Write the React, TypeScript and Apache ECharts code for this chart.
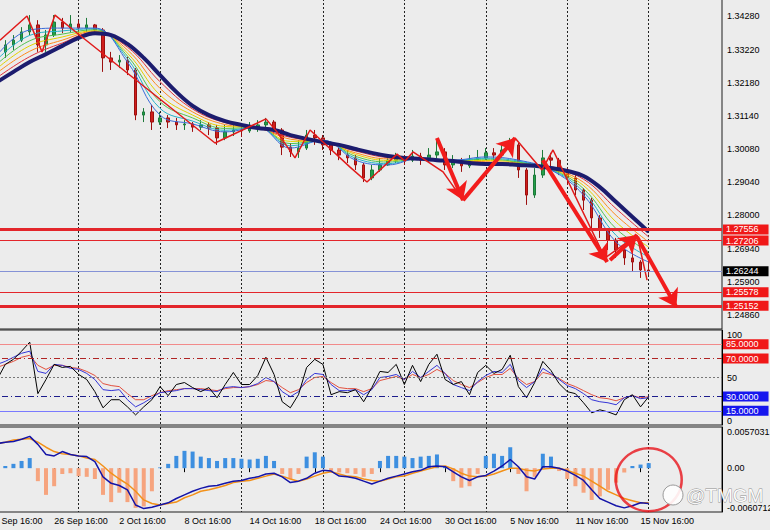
import React, { useEffect, useRef } from "react";
import * as echarts from "echarts";

// ---------- categories (12h slots) ----------
const tradingDays = [
  "20 Sep", "23 Sep", "24 Sep", "25 Sep", "26 Sep", "27 Sep", "30 Sep",
  "1 Oct", "2 Oct", "3 Oct", "4 Oct", "7 Oct", "8 Oct", "9 Oct", "10 Oct", "11 Oct",
  "14 Oct", "15 Oct", "16 Oct", "17 Oct", "18 Oct", "21 Oct", "22 Oct", "23 Oct", "24 Oct", "25 Oct",
  "28 Oct", "29 Oct", "30 Oct", "31 Oct", "1 Nov", "4 Nov", "5 Nov", "6 Nov", "7 Nov", "8 Nov",
  "11 Nov", "12 Nov", "13 Nov", "14 Nov", "15 Nov", "18 Nov", "19 Nov", "20 Nov", "21 Nov", "22 Nov",
];
const sessionHours = ["04:00", "16:00"];
const tickLabels = [
  "20 Sep 16:00", "26 Sep 16:00", "2 Oct 16:00", "8 Oct 16:00", "14 Oct 16:00", "18 Oct 16:00",
  "24 Oct 16:00", "30 Oct 16:00", "5 Nov 16:00", "11 Nov 16:00", "15 Nov 16:00",
];
const priceTicks = [1.3428, 1.3322, 1.3218, 1.3114, 1.3008, 1.2904, 1.28, 1.2694, 1.259, 1.2486];
const oscTicks = [0, 50, 100];
const macdTicks = [-0.0060712, 0, 0.0057031];

// ---------- candles (slots 1..81) ----------
const candleOpen = [
  1.3289, 1.3315, 1.3337, 1.3352, 1.3378, 1.3400, 1.3337, 1.3368, 1.3409, 1.3390,
  1.3403, 1.3390, 1.3400, 1.3384, 1.3296, 1.3283, 1.3289, 1.3258, 1.3116, 1.3126,
  1.3094, 1.3107, 1.3094, 1.3085, 1.3088, 1.3078, 1.3085, 1.3075, 1.3044, 1.3063,
  1.3069, 1.3066, 1.3078, 1.3085, 1.3094, 1.3069, 1.3015, 1.3000, 1.3012, 1.3053,
  1.3044, 1.3022, 1.3006, 1.2990, 1.2981, 1.2959, 1.2918, 1.2943, 1.2959, 1.2974,
  1.2981, 1.2974, 1.2987, 1.2974, 1.2990, 1.3000, 1.2959, 1.2968, 1.2956, 1.2974,
  1.2981, 1.2997, 1.2990, 1.3006, 1.3022, 1.2943, 1.2864, 1.2927, 1.2981, 1.2974,
  1.2943, 1.2918, 1.2880, 1.2848, 1.2792, 1.2754, 1.2722, 1.2691, 1.2666, 1.2653,
  1.2628,
];
const candleClose = [
  1.3315, 1.3337, 1.3352, 1.3378, 1.3400, 1.3337, 1.3368, 1.3409, 1.3390, 1.3403,
  1.3390, 1.3400, 1.3384, 1.3296, 1.3283, 1.3289, 1.3258, 1.3116, 1.3126, 1.3094,
  1.3107, 1.3094, 1.3085, 1.3088, 1.3078, 1.3085, 1.3075, 1.3044, 1.3063, 1.3069,
  1.3066, 1.3078, 1.3085, 1.3094, 1.3069, 1.3015, 1.3000, 1.3012, 1.3053, 1.3044,
  1.3022, 1.3006, 1.2990, 1.2981, 1.2959, 1.2918, 1.2943, 1.2959, 1.2974, 1.2981,
  1.2974, 1.2987, 1.2974, 1.2990, 1.3000, 1.2959, 1.2968, 1.2956, 1.2974, 1.2981,
  1.2997, 1.2990, 1.3006, 1.3022, 1.2943, 1.2864, 1.2927, 1.2981, 1.2974, 1.2943,
  1.2918, 1.2880, 1.2848, 1.2792, 1.2754, 1.2722, 1.2691, 1.2666, 1.2653, 1.2628,
  1.2624,
];
const candleLow = [
  1.3274, 1.3296, 1.3321, 1.3346, 1.3368, 1.3315, 1.3315, 1.3362, 1.3374, 1.3378,
  1.3368, 1.3378, 1.3368, 1.3252, 1.3258, 1.3264, 1.3242, 1.3100, 1.3094, 1.3069,
  1.3085, 1.3075, 1.3069, 1.3069, 1.3063, 1.3069, 1.3053, 1.3022, 1.3037, 1.3050,
  1.3047, 1.3060, 1.3063, 1.3069, 1.3053, 1.2990, 1.2984, 1.2981, 1.3006, 1.3022,
  1.3006, 1.2990, 1.2974, 1.2965, 1.2943, 1.2905, 1.2911, 1.2937, 1.2956, 1.2965,
  1.2959, 1.2968, 1.2959, 1.2968, 1.2974, 1.2943, 1.2949, 1.2937, 1.2949, 1.2968,
  1.2974, 1.2974, 1.2984, 1.3000, 1.2918, 1.2833, 1.2855, 1.2918, 1.2949, 1.2927,
  1.2896, 1.2864, 1.2817, 1.2754, 1.2729, 1.2691, 1.2666, 1.2644, 1.2622, 1.2603,
  1.2612,
];
const candleHigh = [
  1.3337, 1.3352, 1.3368, 1.3393, 1.3431, 1.3415, 1.3384, 1.3431, 1.3422, 1.3431,
  1.3415, 1.3422, 1.3403, 1.3390, 1.3315, 1.3305, 1.3299, 1.3264, 1.3138, 1.3148,
  1.3126, 1.3116, 1.3107, 1.3100, 1.3094, 1.3100, 1.3094, 1.3085, 1.3085, 1.3085,
  1.3085, 1.3094, 1.3100, 1.3107, 1.3100, 1.3075, 1.3028, 1.3037, 1.3069, 1.3069,
  1.3053, 1.3028, 1.3015, 1.3006, 1.2990, 1.2965, 1.2959, 1.2981, 1.2990, 1.2997,
  1.2990, 1.3006, 1.2997, 1.3012, 1.3037, 1.3012, 1.2990, 1.2981, 1.2990, 1.3006,
  1.3012, 1.3012, 1.3028, 1.3044, 1.3028, 1.2949, 1.2949, 1.3006, 1.2997, 1.2981,
  1.2949, 1.2927, 1.2886, 1.2855, 1.2801, 1.2760, 1.2729, 1.2707, 1.2685, 1.2659,
  1.2666,
];

// slow MA (every 2 slots, from slot 1)
const navyMA = [
  1.3220, 1.3252, 1.3283, 1.3308, 1.3334, 1.3359, 1.3374, 1.3368, 1.3340, 1.3296,
  1.3242, 1.3189, 1.3145, 1.3116, 1.3097, 1.3085, 1.3075, 1.3069, 1.3053, 1.3041,
  1.3031, 1.3022, 1.3009, 1.2997, 1.2987, 1.2981, 1.2978, 1.2974, 1.2971, 1.2965,
  1.2962, 1.2962, 1.2959, 1.2956, 1.2949, 1.2940, 1.2924, 1.2889, 1.2842, 1.2795,
  1.2748,
];
// MA ribbon (every 4 slots, from slot 1), slowest -> fastest
const ribbon1 = [1.3234, 1.3300, 1.3343, 1.3377, 1.3330, 1.3221, 1.3135, 1.3092, 1.3075, 1.3046, 1.3031, 1.3003, 1.2982, 1.2978, 1.2971, 1.2966, 1.2962, 1.2948, 1.2914, 1.2821, 1.2732];
const ribbon2 = [1.3249, 1.3317, 1.3352, 1.3380, 1.3321, 1.3200, 1.3126, 1.3086, 1.3076, 1.3040, 1.3032, 1.2997, 1.2978, 1.2978, 1.2972, 1.2969, 1.2965, 1.2947, 1.2904, 1.2800, 1.2716];
const ribbon3 = [1.3263, 1.3334, 1.3362, 1.3382, 1.3311, 1.3179, 1.3116, 1.3080, 1.3077, 1.3033, 1.3034, 1.2992, 1.2973, 1.2979, 1.2972, 1.2973, 1.2967, 1.2946, 1.2894, 1.2779, 1.2700];
const ribbon4 = [1.3277, 1.3350, 1.3371, 1.3385, 1.3302, 1.3158, 1.3107, 1.3074, 1.3077, 1.3026, 1.3035, 1.2986, 1.2968, 1.2980, 1.2973, 1.2977, 1.2968, 1.2945, 1.2884, 1.2758, 1.2685];
const ribbon5 = [1.3291, 1.3367, 1.3381, 1.3388, 1.3293, 1.3137, 1.3097, 1.3068, 1.3078, 1.3019, 1.3036, 1.2980, 1.2963, 1.2980, 1.2973, 1.2980, 1.2971, 1.2944, 1.2874, 1.2737, 1.2669];
const ribbon6 = [1.3305, 1.3384, 1.3390, 1.3390, 1.3283, 1.3116, 1.3088, 1.3063, 1.3078, 1.3012, 1.3037, 1.2974, 1.2959, 1.2981, 1.2974, 1.2984, 1.2974, 1.2943, 1.2864, 1.2716, 1.2653];

// zigzag swing points [slot position, price]
const zigzag = [
  [1.35, 1.3352], [4.67, 1.3428], [6.51, 1.3315], [8.1, 1.3431], [11.42, 1.3362],
  [27.75, 1.3028], [34.01, 1.3104], [35.36, 1.3063], [37.57, 1.2981], [39.42, 1.3069],
  [44.33, 1.2952], [46.41, 1.2905], [50.1, 1.2993], [51.08, 1.2971], [52.06, 1.3],
  [55.75, 1.2937], [58.2, 1.2848], [64.59, 1.3044], [67.9, 1.2943], [69.25, 1.3006],
  [75.64, 1.2666], [79.57, 1.2738], [80.8, 1.2596],
];
// annotation arrows [from, to]
const arrows = [
  [[55.0, 1.3044], [58.2, 1.2848]],
  [[58.2, 1.2848], [64.6, 1.3044]],
  [[68.0, 1.2974], [75.9, 1.2653]],
  [[76.25, 1.2659], [79.57, 1.2738]],
  [[79.57, 1.2732], [84.4, 1.2511]],
];
const priceLevels = [1.27556, 1.27206, 1.26244, 1.25578, 1.25152];

// oscillator (slots 1..81)
const oscFast = [
  47.9, 63.8, 69.1, 77.7, 87.2, 33.0, 47.9, 63.8, 60.6, 61.7,
  53.2, 47.9, 35.1, 18.1, 26.6, 26.6, 19.1, 10.6, 19.1, 26.6,
  40.4, 30.9, 42.6, 44.7, 39.4, 35.1, 39.4, 28.7, 42.6, 55.3,
  42.6, 42.6, 52.1, 71.3, 53.2, 24.5, 18.1, 31.9, 60.6, 69.1,
  63.8, 31.9, 35.1, 34.0, 37.2, 24.5, 39.4, 56.4, 55.3, 63.8,
  42.6, 62.8, 45.7, 63.8, 74.5, 47.9, 42.6, 45.7, 31.9, 55.3,
  62.8, 54.3, 58.5, 73.4, 40.4, 28.7, 44.7, 67.0, 57.4, 43.6,
  35.1, 33.0, 23.4, 12.8, 16.0, 13.8, 10.6, 26.6, 31.9, 19.1,
  29.8,
];
const oscMid = [
  63.8, 67.0, 71.3, 75.5, 77.7, 56.4, 54.3, 63.8, 62.8, 59.6,
  58.5, 54.3, 47.9, 37.2, 36.2, 37.2, 26.6, 19.1, 23.4, 28.7,
  34.0, 35.1, 36.2, 38.3, 38.3, 37.2, 36.2, 35.1, 39.4, 40.4,
  39.4, 40.4, 43.6, 50.0, 45.7, 35.1, 29.8, 35.1, 47.9, 54.3,
  53.2, 42.6, 36.2, 36.2, 37.2, 31.9, 37.2, 50.0, 51.1, 53.2,
  47.9, 56.4, 50.0, 56.4, 62.8, 54.3, 42.6, 39.4, 36.2, 45.7,
  52.1, 56.4, 55.3, 63.8, 46.8, 39.4, 45.7, 59.6, 54.3, 47.9,
  41.5, 38.3, 33.0, 26.6, 24.5, 23.4, 21.3, 28.7, 30.9, 27.7,
  28.7,
];
const oscSlow = [
  60.6, 63.8, 67.0, 71.3, 73.4, 62.8, 58.5, 62.8, 62.8, 60.6,
  59.6, 56.4, 52.1, 43.6, 41.5, 40.4, 33.0, 26.6, 26.6, 30.9,
  34.0, 36.2, 37.2, 38.3, 38.3, 38.3, 37.2, 36.2, 38.3, 39.4,
  39.4, 40.4, 42.6, 46.8, 45.7, 39.4, 34.0, 37.2, 44.7, 50.0,
  51.1, 44.7, 39.4, 38.3, 38.3, 35.1, 38.3, 46.8, 48.9, 51.1,
  47.9, 53.2, 50.0, 53.2, 58.5, 54.3, 46.8, 42.6, 39.4, 44.7,
  50.0, 53.2, 53.2, 59.6, 48.9, 42.6, 45.7, 55.3, 53.2, 48.9,
  43.6, 40.4, 36.2, 31.9, 28.7, 27.7, 25.5, 28.7, 30.9, 28.7,
  29.8,
];
const oscLevels = [85, 70, 50, 30, 15];

// MACD (slots 1..81)
const macdHist = [
  0.0002, 0.0003, 0.0006, 0.0010, 0.0014, -0.0018, -0.0037, -0.0025, -0.0008, -0.0007,
  -0.0011, -0.0012, -0.0015, -0.0037, -0.0047, -0.0034, -0.0047, -0.0055, -0.0053, -0.0032,
  0.0001, 0.0006, 0.0017, 0.0024, 0.0023, 0.0016, 0.0014, 0.0010, 0.0014, 0.0014,
  0.0013, 0.0012, 0.0013, 0.0017, 0.0010, -0.0008, -0.0015, -0.0008, 0.0016, 0.0022,
  0.0016, -0.0004, -0.0006, -0.0007, -0.0008, -0.0012, -0.0008, 0.0010, 0.0017, 0.0017,
  0.0016, 0.0014, 0.0016, 0.0017, 0.0019, 0.0003, -0.0018, -0.0027, -0.0025, -0.0008,
  0.0017, 0.0020, 0.0017, 0.0029, -0.0008, -0.0032, -0.0012, 0.0020, 0.0016, -0.0004,
  -0.0015, -0.0025, -0.0034, -0.0044, -0.0039, -0.0030, -0.0020, -0.0006, 0.0003, 0.0005,
  0.0007,
];
const macdMain = [
  0.0034, 0.0036, 0.0037, 0.0040, 0.0044, 0.0033, 0.0019, 0.0017, 0.0023, 0.0019,
  0.0017, 0.0016, 0.0009, -0.0012, -0.0021, -0.0024, -0.0030, -0.0051, -0.0056, -0.0054,
  -0.0051, -0.0048, -0.0042, -0.0037, -0.0032, -0.0028, -0.0025, -0.0024, -0.0021, -0.0018,
  -0.0017, -0.0014, -0.0012, -0.0008, -0.0007, -0.0012, -0.0020, -0.0018, -0.0014, -0.0007,
  -0.0003, -0.0004, -0.0011, -0.0012, -0.0014, -0.0018, -0.0022, -0.0018, -0.0014, -0.0011,
  -0.0008, -0.0005, -0.0003, 0.0002, 0.0003, 0.0002, -0.0005, -0.0012, -0.0017, -0.0012,
  -0.0010, -0.0004, 0.0003, 0.0012, 0.0002, -0.0012, -0.0015, 0.0002, 0.0002, 0.0000,
  -0.0004, -0.0010, -0.0017, -0.0030, -0.0042, -0.0047, -0.0052, -0.0055, -0.0052, -0.0048,
  -0.0049,
];
const macdSignal = [
  0.0034, 0.0036, 0.0039, 0.0040, 0.0041, 0.0036, 0.0029, 0.0023, 0.0020, 0.0019,
  0.0017, 0.0014, 0.0012, 0.0003, -0.0007, -0.0015, -0.0022, -0.0032, -0.0044, -0.0049,
  -0.0051, -0.0049, -0.0047, -0.0041, -0.0037, -0.0032, -0.0030, -0.0027, -0.0024, -0.0020,
  -0.0018, -0.0017, -0.0014, -0.0011, -0.0008, -0.0011, -0.0015, -0.0018, -0.0015, -0.0011,
  -0.0007, -0.0005, -0.0008, -0.0011, -0.0012, -0.0015, -0.0017, -0.0018, -0.0015, -0.0012,
  -0.0011, -0.0007, -0.0004, -0.0001, 0.0002, 0.0003, -0.0001, -0.0007, -0.0011, -0.0012,
  -0.0011, -0.0008, -0.0004, 0.0000, 0.0000, -0.0003, -0.0004, -0.0001, 0.0000, 0.0000,
  -0.0003, -0.0007, -0.0011, -0.0018, -0.0025, -0.0032, -0.0037, -0.0042, -0.0045, -0.0048,
  -0.0048,
];
const highlightSlot = 81;
const highlightValue = -0.0016;

// ---------- styling ----------
const FONT = '"Liberation Sans", Arial, sans-serif';
const BG = "#ececec";
const ribbonColors = ["#e0303a", "#ff8a1c", "#e2d200", "#52c24f", "#22b3c9", "#3a6ad8"];
const priceLevelStyles = [
  { color: "#e3262b", width: 3, bg: "#f01818" },
  { color: "#e3262b", width: 1, bg: "#f01818" },
  { color: "#8592d6", width: 1, bg: "#000000" },
  { color: "#e3262b", width: 1, bg: "#f01818" },
  { color: "#e3262b", width: 3, bg: "#f01818" },
];
const oscLevelStyles = [
  { color: "#f28a8a", type: "solid", bg: "#f01818" },
  { color: "#b02424", type: [6, 3, 1, 3], bg: "#f01818" },
  { color: "#777777", type: [2, 2], bg: "" },
  { color: "#1c1c8c", type: [6, 3, 1, 3], bg: "#1616ee" },
  { color: "#7a7aff", type: "solid", bg: "#1616ee" },
];

const categories = tradingDays.flatMap((d) => sessionHours.map((h) => `${d} ${h}`)).slice(1);
const gridSplit = (idx: number) => idx % 10 === 1 && idx > 1;
const pad = (arr: number[]) => ["-", ...arr];

function buildOption() {
  const candles: any[] = [["-", "-", "-", "-"]];
  candleOpen.forEach((o, i) => candles.push([o, candleClose[i], candleLow[i], candleHigh[i]]));
  const ribbons = [ribbon1, ribbon2, ribbon3, ribbon4, ribbon5, ribbon6];

  const catAxisBase = (gridIndex: number) => ({
    type: "category",
    gridIndex,
    data: categories,
    boundaryGap: false,
    axisLine: { show: false },
    axisTick: { show: false },
    axisLabel: { show: false },
    splitLine: { show: true, interval: gridSplit, lineStyle: { color: "#222", type: [2, 2], width: 1 } },
  });
  const labelBase = { color: "#000", fontSize: 9, fontFamily: FONT, margin: 5 };
  const gridBase = {
    left: -11, right: 48, show: true, borderColor: "#1e1e1e", borderWidth: 1,
    backgroundColor: "transparent", containLabel: false, outerBoundsMode: "none",
  };

  return {
    animation: false,
    backgroundColor: BG,
    textStyle: { fontFamily: FONT },
    grid: [
      { ...gridBase, top: -1, height: 330 },
      { ...gridBase, top: 330, height: 95 },
      { ...gridBase, top: 427, height: 85 },
    ],
    xAxis: [
      catAxisBase(0),
      { type: "value", gridIndex: 0, min: 0, max: 90, show: false },
      catAxisBase(1),
      {
        ...catAxisBase(2),
        axisTick: { show: true, interval: (i: number, v: string) => tickLabels.includes(v), length: 4, lineStyle: { color: "#000" } },
        axisLabel: {
          ...labelBase, show: true, align: "left", margin: 4,
          interval: (i: number, v: string) => tickLabels.includes(v),
        },
      },
    ],
    yAxis: [
      {
        type: "value", gridIndex: 0, position: "right", min: 1.24421, max: 1.34816,
        splitLine: { show: false },
        axisLine: { show: true, lineStyle: { color: "#000" } },
        axisTick: { show: true, length: 3, customValues: priceTicks, lineStyle: { color: "#000" } },
        axisLabel: { ...labelBase, customValues: priceTicks, formatter: (v: number) => v.toFixed(5) },
      },
      {
        type: "value", gridIndex: 1, position: "right", min: 0, max: 100,
        splitLine: { show: false },
        axisLine: { show: true, lineStyle: { color: "#000" } },
        axisTick: { show: false },
        axisLabel: {
          ...labelBase, customValues: oscTicks,
          formatter: (v: number) => (v === 100 ? "{t|100}" : v === 0 ? "{b|0}" : String(v)),
          rich: {
            t: { padding: [9, 0, 0, 0], fontSize: 9, color: "#000", fontFamily: FONT },
            b: { padding: [0, 0, 9, 0], fontSize: 9, color: "#000", fontFamily: FONT },
          },
        },
      },
      {
        type: "value", gridIndex: 2, position: "right", min: macdTicks[0], max: macdTicks[2],
        splitLine: { show: false },
        axisLine: { show: true, lineStyle: { color: "#000" } },
        axisTick: { show: false },
        axisLabel: {
          ...labelBase, customValues: macdTicks,
          formatter: (v: number) =>
            v === 0 ? "0.00" : v > 0 ? `{t|${v.toFixed(7)}}` : `{b|${v.toFixed(7)}}`,
          rich: {
            t: { padding: [9, 0, 0, 0], fontSize: 9, color: "#000", fontFamily: FONT },
            b: { padding: [0, 0, 9, 0], fontSize: 9, color: "#000", fontFamily: FONT },
          },
        },
      },
    ],
    series: [
      ...ribbons.map((r, j) => ({
        type: "line", xAxisIndex: 1, yAxisIndex: 0, smooth: 0.4, symbol: "none", silent: true,
        data: r.map((v, k) => [1 + 4 * k, v]),
        lineStyle: { color: ribbonColors[j], width: 1 },
      })),
      {
        type: "candlestick", xAxisIndex: 0, yAxisIndex: 0, data: candles, barWidth: 3,
        itemStyle: { color: "#23a04a", color0: "#d01f1c", borderColor: "#1d7a3a", borderColor0: "#9c1010", borderWidth: 1 },
        markLine: {
          silent: true, symbol: ["none", "none"], precision: 5,
          data: priceLevels.map((lv, i) => ({
            yAxis: lv,
            lineStyle: { color: priceLevelStyles[i].color, width: priceLevelStyles[i].width, type: "solid" },
            label: {
              show: true, position: "end", distance: 1, formatter: lv.toFixed(5),
              backgroundColor: priceLevelStyles[i].bg, color: "#fff", padding: [1, 10, 0, 3],
              fontSize: 9, fontFamily: FONT,
            },
          })),
        },
      },
      {
        type: "line", xAxisIndex: 1, yAxisIndex: 0, smooth: 0.4, symbol: "none", silent: true,
        data: navyMA.map((v, k) => [1 + 2 * k, v]),
        lineStyle: { color: "#1c1c6e", width: 4 },
      },
      {
        type: "line", xAxisIndex: 1, yAxisIndex: 0, symbol: "none", silent: true,
        data: zigzag,
        lineStyle: { color: "#e01a1a", width: 1.5 },
        markLine: {
          silent: true, symbol: ["none", "arrow"], symbolSize: 17, precision: 5,
          lineStyle: { color: "#f21c1c", width: 4, type: "solid" },
          label: { show: false },
          data: arrows.map(([a, b]) => [{ coord: a }, { coord: b }]),
        },
      },
      // oscillator
      {
        type: "line", xAxisIndex: 2, yAxisIndex: 1, symbol: "none", silent: true,
        data: pad(oscSlow), lineStyle: { color: "#e2503e", width: 1 },
      },
      {
        type: "line", xAxisIndex: 2, yAxisIndex: 1, symbol: "none", silent: true,
        data: pad(oscMid), lineStyle: { color: "#3535d6", width: 1 },
      },
      {
        type: "line", xAxisIndex: 2, yAxisIndex: 1, symbol: "none", silent: true,
        data: pad(oscFast), lineStyle: { color: "#000000", width: 1 },
        markLine: {
          silent: true, symbol: ["none", "none"], precision: 4,
          data: oscLevels.map((lv, i) => ({
            yAxis: lv,
            lineStyle: { color: oscLevelStyles[i].color, width: 1, type: oscLevelStyles[i].type },
            label: oscLevelStyles[i].bg
              ? {
                  show: true, position: "end", distance: 1, formatter: lv.toFixed(4),
                  backgroundColor: oscLevelStyles[i].bg, color: "#fff", padding: [1, 10, 0, 3],
                  fontSize: 9, fontFamily: FONT,
                }
              : { show: false },
          })),
        },
      },
      // MACD
      {
        type: "bar", xAxisIndex: 3, yAxisIndex: 2, barWidth: 4, silent: true,
        data: pad(macdHist),
        itemStyle: { color: (p: any) => (p.value >= 0 ? "#3d8fe0" : "#f6a47e") },
      },
      {
        type: "line", xAxisIndex: 3, yAxisIndex: 2, symbol: "none", silent: true,
        data: pad(macdSignal), lineStyle: { color: "#f39118", width: 1.5 },
      },
      {
        type: "line", xAxisIndex: 3, yAxisIndex: 2, symbol: "none", silent: true,
        data: pad(macdMain), lineStyle: { color: "#1414a8", width: 1.5 },
      },
      {
        type: "scatter", xAxisIndex: 3, yAxisIndex: 2, silent: true, z: 10,
        data: [[categories[highlightSlot], highlightValue]],
        symbol: "circle", symbolSize: [66, 63],
        itemStyle: { color: "rgba(0,0,0,0)", borderColor: "#e8141c", borderWidth: 2.5 },
      },
    ],
    graphic: [
      {
        type: "circle", shape: { cx: 673, cy: 495, r: 10 }, z: 100,
        style: { fill: "rgba(255,255,255,0.9)", stroke: "#9a9a9a", lineWidth: 1 },
      },
      {
        type: "text", x: 686, y: 486, z: 100,
        style: {
          text: "@TMGM", fontSize: 19, fontFamily: FONT, fill: "rgba(255,255,255,0.95)",
          stroke: "#8c8c8c", lineWidth: 0.8, verticalAlign: "top",
        },
      },
    ],
  };
}

export default function App() {
  const ref = useRef<HTMLDivElement>(null);
  useEffect(() => {
    document.body.style.margin = "0";
    const chart = echarts.init(ref.current as HTMLDivElement, null, { renderer: "svg" });
    chart.setOption(buildOption() as any);
    return () => chart.dispose();
  }, []);
  return <div ref={ref} style={{ width: 770, height: 530 }} />;
}
